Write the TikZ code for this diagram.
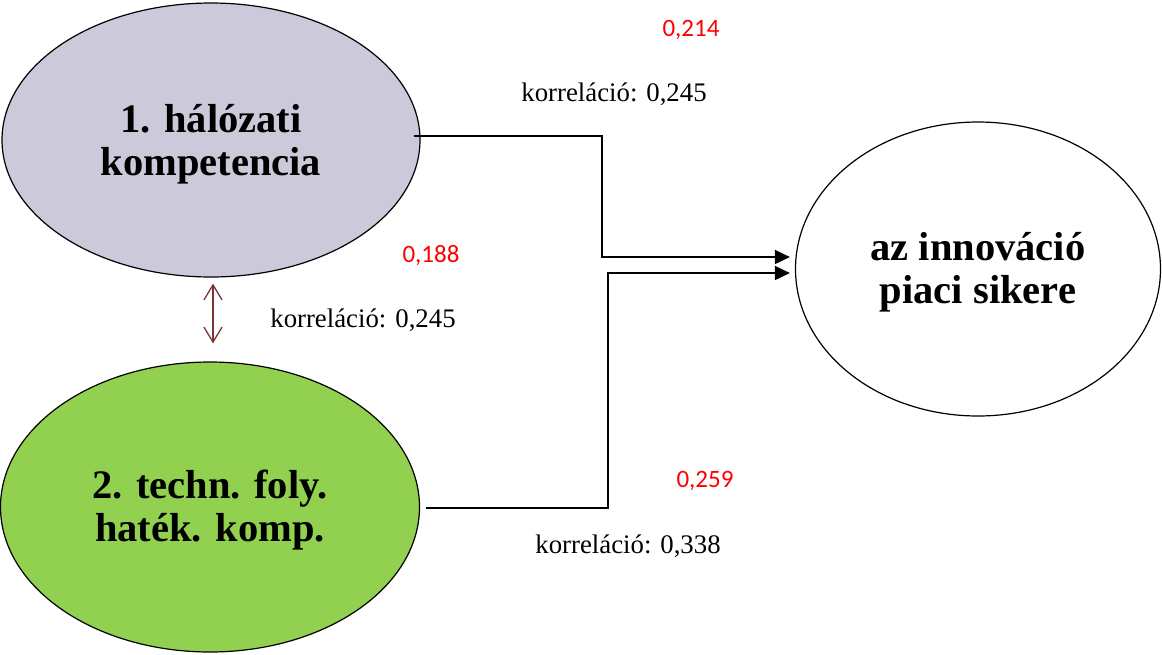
\documentclass[tikz,border=0pt]{standalone}
\usepackage{fontspec}
\setmainfont{Liberation Serif}
\newfontfamily\numfont{Carlito}
\usetikzlibrary{shapes.geometric,arrows.meta}
\definecolor{netfill}{HTML}{CBC9DA}
\definecolor{techfill}{HTML}{92D050}
\definecolor{corrarrow}{HTML}{7B3434}
\definecolor{coefred}{HTML}{FF0000}
\tikzset{
  construct/.style={ellipse, draw=black, line width=1.2pt, inner sep=0pt},
  title/.style={align=center, inner sep=0pt,
    font=\fontsize{40.5}{43}\selectfont\bfseries},
  conn/.style={draw=black, line width=1.8pt,
    -{Triangle[length=15pt,width=14pt]}},
  corrlink/.style={draw=corrarrow, line width=1.3pt,
    {Straight Barb[length=15pt,width=18pt]}-{Straight Barb[length=15pt,width=18pt]}},
  coef/.style={anchor=base, inner sep=0pt, text=coefred,
    font=\numfont\fontsize{25}{30}\selectfont},
  corrtext/.style={anchor=base, inner sep=0pt,
    font=\fontsize{26.8}{30}\selectfont},
}
\begin{document}
\begin{tikzpicture}[x=1pt, y=-1pt]
  \useasboundingbox (0,0) rectangle (1162,654);

  % the three constructs
  \node[construct, fill=netfill, minimum width=418pt, minimum height=274pt]
    (net) at (211,140) {};
  \node[construct, fill=techfill, minimum width=419pt, minimum height=290pt]
    (tech) at (210,507) {};
  \node[construct, fill=white, minimum width=365pt, minimum height=294pt]
    (succ) at (978,269) {};

  % their names
  \node[title] (netname) at ([yshift=-4pt]net.center) {1. hálózati\\kompetencia};
  \node[title] (techname) at ([yshift=-3pt]tech.center) {2. techn. foly.\\haték. komp.};
  \node[title] (succname) at ([yshift=-3pt]succ.center) {az innováció\\piaci sikere};

  % connector end points and bends
  \coordinate (out1) at ([xshift=-7pt, yshift=4pt]net.east);
  \coordinate (out2) at ([xshift=6pt, yshift=-1pt]tech.east);
  \coordinate (in1) at ([xshift=-5pt, yshift=12pt]succ.west);
  \coordinate (in2) at ([xshift=-5pt, yshift=-4pt]succ.west);
  \coordinate (bend1) at (602,0);
  \coordinate (bend2) at (608,0);

  % paths into the outcome
  \draw[conn] (out1) -| (bend1 |- in1) -- (in1);
  \draw[conn] (out2) -| (bend2 |- in2) -- (in2);

  % correlation between the two competences
  \coordinate (c1) at ([xshift=2pt, yshift=-6pt]net.south);
  \coordinate (c2) at ([xshift=3pt, yshift=18pt]tech.north);
  \draw[corrlink] (c1) -- (c2);

  % coefficients and correlations
  \node[coef] (b1) at (691,36) {0,214};
  \node[corrtext] (r1) at (614,101) {korreláció: 0,245};
  \node[coef] (b2) at (431,262) {0,188};
  \node[corrtext] (r2) at (363,327) {korreláció: 0,245};
  \node[coef] (b3) at (705,487) {0,259};
  \node[corrtext] (r3) at (628,553) {korreláció: 0,338};
\end{tikzpicture}
\end{document}
